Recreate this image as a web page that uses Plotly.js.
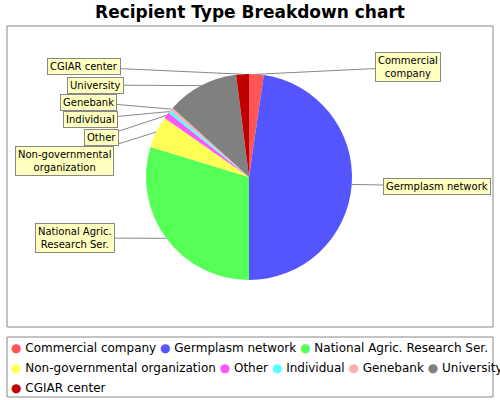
<!DOCTYPE html>
<html>
<head>
<script src="https://cdn.plot.ly/plotly-3.0.1.min.js"></script>
<style>body{margin:0;background:#fff}</style>
</head>
<body>
<div id="chart" style="width:500px;height:400px"></div>
<script>
const categories = ['Commercial company', 'Germplasm network', 'National Agric. Research Ser.',
  'Non-governmental organization', 'Other', 'Individual', 'Genebank', 'University', 'CGIAR center'];
const shares = [2.3, 47.7, 29.7, 5.0, 1.0, 0.5, 0.5, 11.3, 2.0];
const labelTexts = ['Commercial<br>company', 'Germplasm network', 'National Agric.<br>Research Ser.',
  'Non-governmental<br>organization', 'Other', 'Individual', 'Genebank', 'University', 'CGIAR center'];
const colors = ['#FF5555', '#5555FF', '#55FF55', '#FFFF55', '#FF55FF', '#55FFFF', '#FFAFAF', '#808080', '#C00000'];
const legendRows = [[0, 1, 2], [3, 4, 5, 6, 7], [8]];

// label box centres in pixels
const labelPos = [[408, 67], [437, 186], [75, 238], [64, 161], [101, 137], [90, 119], [88, 102], [95, 85], [84, 67]];

const M = {l: 7, r: 7, t: 26, b: 73};
const W = 500 - M.l - M.r, H = 400 - M.t - M.b;
const cx = 249, cy = 177, R = 103;
const py2paper = py => (M.t + H - py) / H;

const total = shares.reduce((a, b) => a + b, 0);
let acc = 0;
const annotations = shares.map((v, i) => {
  const mid = (acc + v / 2) / total * 2 * Math.PI;
  acc += v;
  const px = cx + R * Math.sin(mid), py = cy - R * Math.cos(mid);
  return {
    x: (px - M.l) / W, y: py2paper(py), xref: 'paper', yref: 'paper',
    ax: labelPos[i][0] - px, ay: labelPos[i][1] - py,
    text: labelTexts[i], showarrow: true, arrowhead: 0, arrowwidth: 1, arrowcolor: '#888',
    bgcolor: '#FFFFC0', bordercolor: '#888', borderwidth: 1, borderpad: 2,
    font: {family: 'DejaVu Sans', size: 10, color: '#000'}
  };
});

// legend drawn as text rows
legendRows.forEach((row, r) => {
  annotations.push({
    xref: 'paper', yref: 'paper', x: 0.005, y: py2paper(348 + r * 20), xanchor: 'left', yanchor: 'middle',
    showarrow: false, align: 'left',
    text: row.map(i => '<span style="color:' + colors[i] + '">●</span> ' + categories[i]).join(' '),
    font: {family: 'DejaVu Sans', size: 12, color: '#000'}
  });
});

const trace = {
  type: 'pie', labels: categories, values: shares, sort: false, direction: 'clockwise', rotation: 0,
  textinfo: 'none', hoverinfo: 'label+percent',
  marker: {colors: colors, line: {width: 0}},
  domain: {x: [(cx - R - M.l) / W, (cx + R - M.l) / W], y: [py2paper(cy + R), py2paper(cy - R)]}
};

const layout = {
  width: 500, height: 400, margin: M,
  paper_bgcolor: '#fff',
  title: {text: '<b>Recipient Type Breakdown chart</b>', x: 0.5, y: 0.985, yanchor: 'top',
    font: {family: 'DejaVu Sans', size: 17, color: '#000'}},
  showlegend: false,
  shapes: [
    {type: 'rect', xref: 'paper', yref: 'paper', x0: 0, x1: 1, y0: 0, y1: 1, line: {color: '#888', width: 1}},
    {type: 'rect', xref: 'paper', yref: 'paper', x0: 0, x1: 1, y0: py2paper(397), y1: py2paper(337),
      line: {color: '#888', width: 1}}
  ],
  annotations: annotations
};

Plotly.newPlot('chart', [trace], layout, {displayModeBar: false});
</script>
</body>
</html>
